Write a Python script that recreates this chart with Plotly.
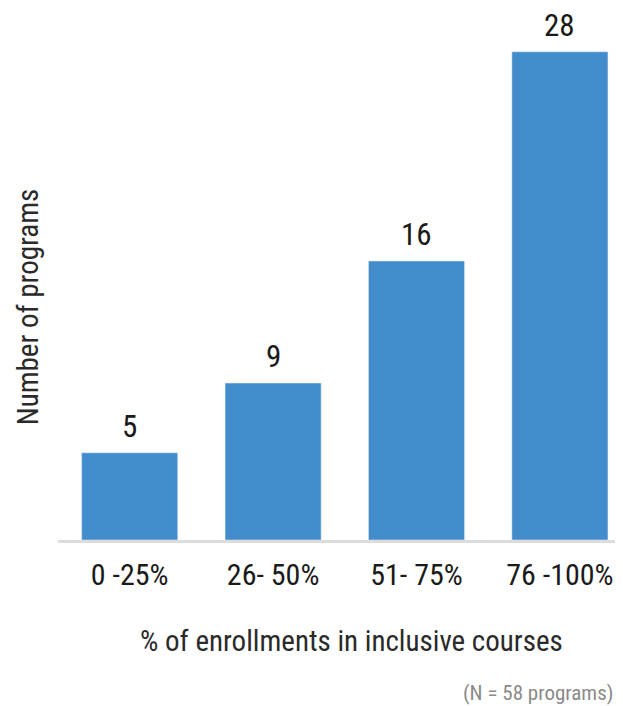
import plotly.graph_objects as go

categories = ["0 -25%", "26- 50%", "51- 75%", "76 -100%"]
values = [5, 9, 16, 28]

FONT = "Roboto Condensed, Noto Sans Condensed, Liberation Sans Narrow, Roboto, sans-serif"
BAR = "#438ccb"

fig = go.Figure(go.Bar(
    x=categories, y=values, marker_color=BAR, width=0.67,
    hoverinfo="skip",
))

for c, v in zip(categories, values):
    fig.add_annotation(x=c, y=v, text=str(v), showarrow=False,
                       yanchor="bottom", yshift=6,
                       font=dict(family=FONT, size=31, color="#1a1a1a"))

fig.add_annotation(xref="paper", yref="paper", x=-0.054, y=0.44,
                   text="Number of programs", textangle=-90, showarrow=False,
                   xanchor="center", yanchor="middle",
                   font=dict(family=FONT, size=29, color="#2a2a2a"))
fig.add_annotation(xref="paper", yref="paper", x=0.519, y=-0.19,
                   text="% of enrollments in inclusive courses", showarrow=False,
                   xanchor="center", yanchor="middle",
                   font=dict(family=FONT, size=29, color="#2a2a2a"))
fig.add_annotation(xref="paper", yref="paper", x=0.985, y=-0.288,
                   text="(N = 58 programs)", showarrow=False,
                   xanchor="right", yanchor="middle",
                   font=dict(family=FONT, size=21, color="#8a8a8a"))

fig.update_layout(
    width=615, height=698,
    margin=dict(l=50, r=0, t=2, b=166),
    plot_bgcolor="white", paper_bgcolor="white",
    showlegend=False,
    xaxis=dict(range=[-0.5, 3.44], showline=True, linecolor="#dcdcdc", linewidth=3,
               ticks="outside", ticklen=6, tickcolor="rgba(0,0,0,0)",
               tickfont=dict(family=FONT, size=30, color="#1a1a1a"),
               showgrid=False, zeroline=False),
    yaxis=dict(range=[0, 30.4], visible=False, showgrid=False, zeroline=False),
)

fig.write_html("out.html")
